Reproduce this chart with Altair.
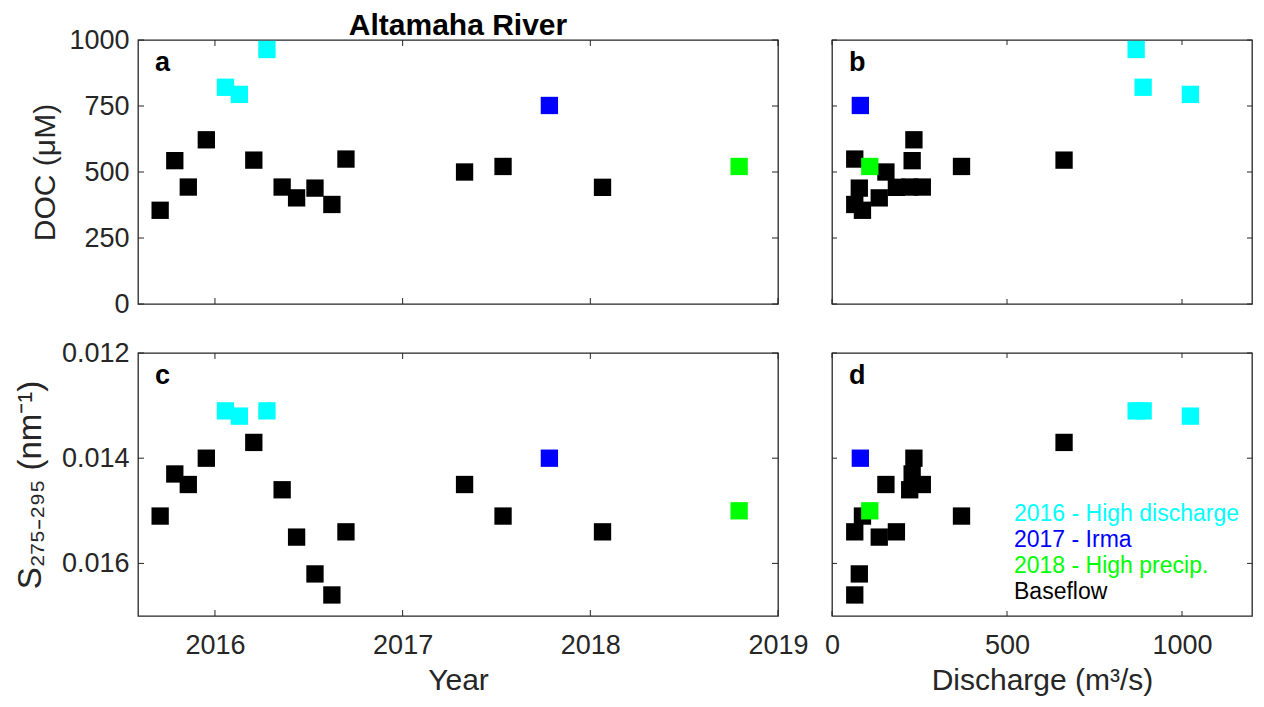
import altair as alt
import pandas as pd

FONT = "Liberation Sans, Arial, Helvetica, sans-serif"
BOX = "#262626"

# ---------------- data ----------------
year = [2015.708, 2015.786, 2015.858, 2015.954, 2016.056, 2016.130, 2016.277,
        2016.207, 2016.358, 2016.435, 2016.533, 2016.623, 2016.698, 2017.330,
        2017.535, 2017.782, 2018.065, 2018.793]
doc = [355, 543, 443, 622, 821, 794, 964, 545, 443, 402, 439, 377, 549, 500,
       521, 752, 442, 521]
slope = [0.0151, 0.0143, 0.0145, 0.0140, 0.0131, 0.0132, 0.0131, 0.0137,
         0.0146, 0.0155, 0.0162, 0.0166, 0.0154, 0.0145, 0.0151, 0.0140,
         0.0154, 0.0150]
discharge = [87, 229, 258, 234, 889, 1024, 869, 663, 222, 135, 78, 65, 65,
             154, 370, 81, 184, 108]
group = ["Baseflow", "Baseflow", "Baseflow", "Baseflow",
         "2016 - High discharge", "2016 - High discharge", "2016 - High discharge",
         "Baseflow", "Baseflow", "Baseflow", "Baseflow", "Baseflow", "Baseflow",
         "Baseflow", "Baseflow", "2017 - Irma", "Baseflow", "2018 - High precip."]

group_names = ["2016 - High discharge", "2017 - Irma", "2018 - High precip.", "Baseflow"]
group_colors = ["#00FFFF", "#0000FF", "#00FF00", "#000000"]
draw_order = [1, 2, 3, 0]

year_ticks = [2016, 2017, 2018, 2019]
year_domain = [2015.59, 2019.0]
doc_ticks = [0, 250, 500, 750, 1000]
doc_domain = [0, 1000]
slope_ticks = [0.012, 0.014, 0.016]
slope_domain = [0.012, 0.017]
q_ticks = [0, 500, 1000]
q_domain = [0, 1200]
panel_letters = ["a", "b", "c", "d"]
title_text = ["Altamaha River"]

# ---------------- layout ----------------
WL, WR = 640, 420
HT, HB = 264, 263
TICK_L = 6
TICK_R = 5
LEG_X = 182
LEG_Y = [161, 187, 213, 239]

df = pd.DataFrame({"year": year, "doc": doc, "slope": slope, "q": discharge, "group": group})
df["ord"] = df["group"].map(dict(zip(group_names, draw_order)))
df = df.sort_values("ord", kind="stable").reset_index(drop=True)

color_enc = alt.Color("group:N", scale=alt.Scale(domain=group_names, range=group_colors), legend=None)


def panel(xf, yf, xdom, ydom, xt, yt, W, H, tl, letter, xaxis, yaxis, yrev=False, extra=None):
    xs = alt.Scale(domain=xdom, nice=False, zero=False)
    ys = alt.Scale(domain=ydom, nice=False, zero=False, reverse=yrev)

    def X():
        return alt.X(f"{xf}:Q", scale=xs, axis=xaxis)

    def Y():
        return alt.Y(f"{yf}:Q", scale=ys, axis=yaxis)

    pts = alt.Chart(df).mark_square(size=300, opacity=1, strokeWidth=0).encode(
        x=X(), y=Y(), color=color_enc)

    xdf = pd.DataFrame({xf: xt})
    ydf = pd.DataFrame({yf: yt})
    rule = dict(color=BOX, strokeWidth=1)
    t_bot = alt.Chart(xdf).mark_rule(**rule).encode(x=X(), y=alt.value(H), y2=alt.value(H - tl))
    t_top = alt.Chart(xdf).mark_rule(**rule).encode(x=X(), y=alt.value(0), y2=alt.value(tl))
    t_left = alt.Chart(ydf).mark_rule(**rule).encode(y=Y(), x=alt.value(0), x2=alt.value(tl))
    t_right = alt.Chart(ydf).mark_rule(**rule).encode(y=Y(), x=alt.value(W - tl), x2=alt.value(W))

    let = alt.Chart(pd.DataFrame({"letter": [letter]})).mark_text(
        font=FONT, fontSize=27, fontWeight="bold", align="left", baseline="alphabetic", color="black"
    ).encode(text="letter:N", x=alt.value(17), y=alt.value(31))

    layers = [pts, t_bot, t_top, t_left, t_right, let]
    if extra:
        layers += extra
    return alt.layer(*layers).properties(width=W, height=H)


yaxis_doc = alt.Axis(values=doc_ticks, format="d", title="DOC (μM)", labelPadding=9, titlePadding=8,
                     labelOverlap=False)
yaxis_s = alt.Axis(values=slope_ticks, format=".3f", title="S₂₇₅₋₂₉₅ (nm⁻¹)", labelPadding=9,
                   titlePadding=14, titleFontSize=33, labelOverlap=False)
xaxis_year = alt.Axis(values=year_ticks, format="d", title="Year", labelPadding=16, titlePadding=7,
                      labelFlush=False, labelOverlap=False)
xaxis_q = alt.Axis(values=q_ticks, format="d", title="Discharge (m³/s)", labelPadding=16, titlePadding=7,
                   labelFlush=False, labelOverlap=False)

legend_layers = []
for name, col, yy in zip(group_names, group_colors, LEG_Y):
    legend_layers.append(
        alt.Chart(pd.DataFrame({"label": [name]})).mark_text(
            font=FONT, fontSize=23, align="left", baseline="middle", color=col
        ).encode(text="label:N", x=alt.value(LEG_X), y=alt.value(yy))
    )

title_layer = alt.Chart(pd.DataFrame({"t": title_text})).mark_text(
    font=FONT, fontSize=30, fontWeight="bold", color="black", align="center", baseline="alphabetic"
).encode(text="t:N", x=alt.value(WL / 2), y=alt.value(-5))

pa = panel("year", "doc", year_domain, doc_domain, year_ticks, doc_ticks, WL, HT, TICK_L, panel_letters[0],
           None, yaxis_doc, extra=[title_layer])
pb = panel("q", "doc", q_domain, doc_domain, q_ticks, doc_ticks, WR, HT, TICK_R, panel_letters[1],
           None, None)
pc = panel("year", "slope", year_domain, slope_domain, year_ticks, slope_ticks, WL, HB, TICK_L,
           panel_letters[2], xaxis_year, yaxis_s, yrev=True)
pd_ = panel("q", "slope", q_domain, slope_domain, q_ticks, slope_ticks, WR, HB, TICK_R, panel_letters[3],
            xaxis_q, None, yrev=True, extra=legend_layers)

chart = alt.concat(
    pa, pb, pc, pd_, columns=2, spacing={"row": 49, "column": 54}, bounds="flush",
    padding={"left": 5, "top": 2, "right": 0, "bottom": 0}
).configure_view(
    stroke=BOX, strokeWidth=1.3
).configure_axis(
    grid=False, domain=False, ticks=False, tickSize=0,
    labelFont=FONT, labelFontSize=27, labelColor=BOX,
    titleFont=FONT, titleFontSize=30, titleFontWeight="normal", titleColor=BOX
)

chart.save("out.html", embed_options={"renderer": "svg", "actions": False})
